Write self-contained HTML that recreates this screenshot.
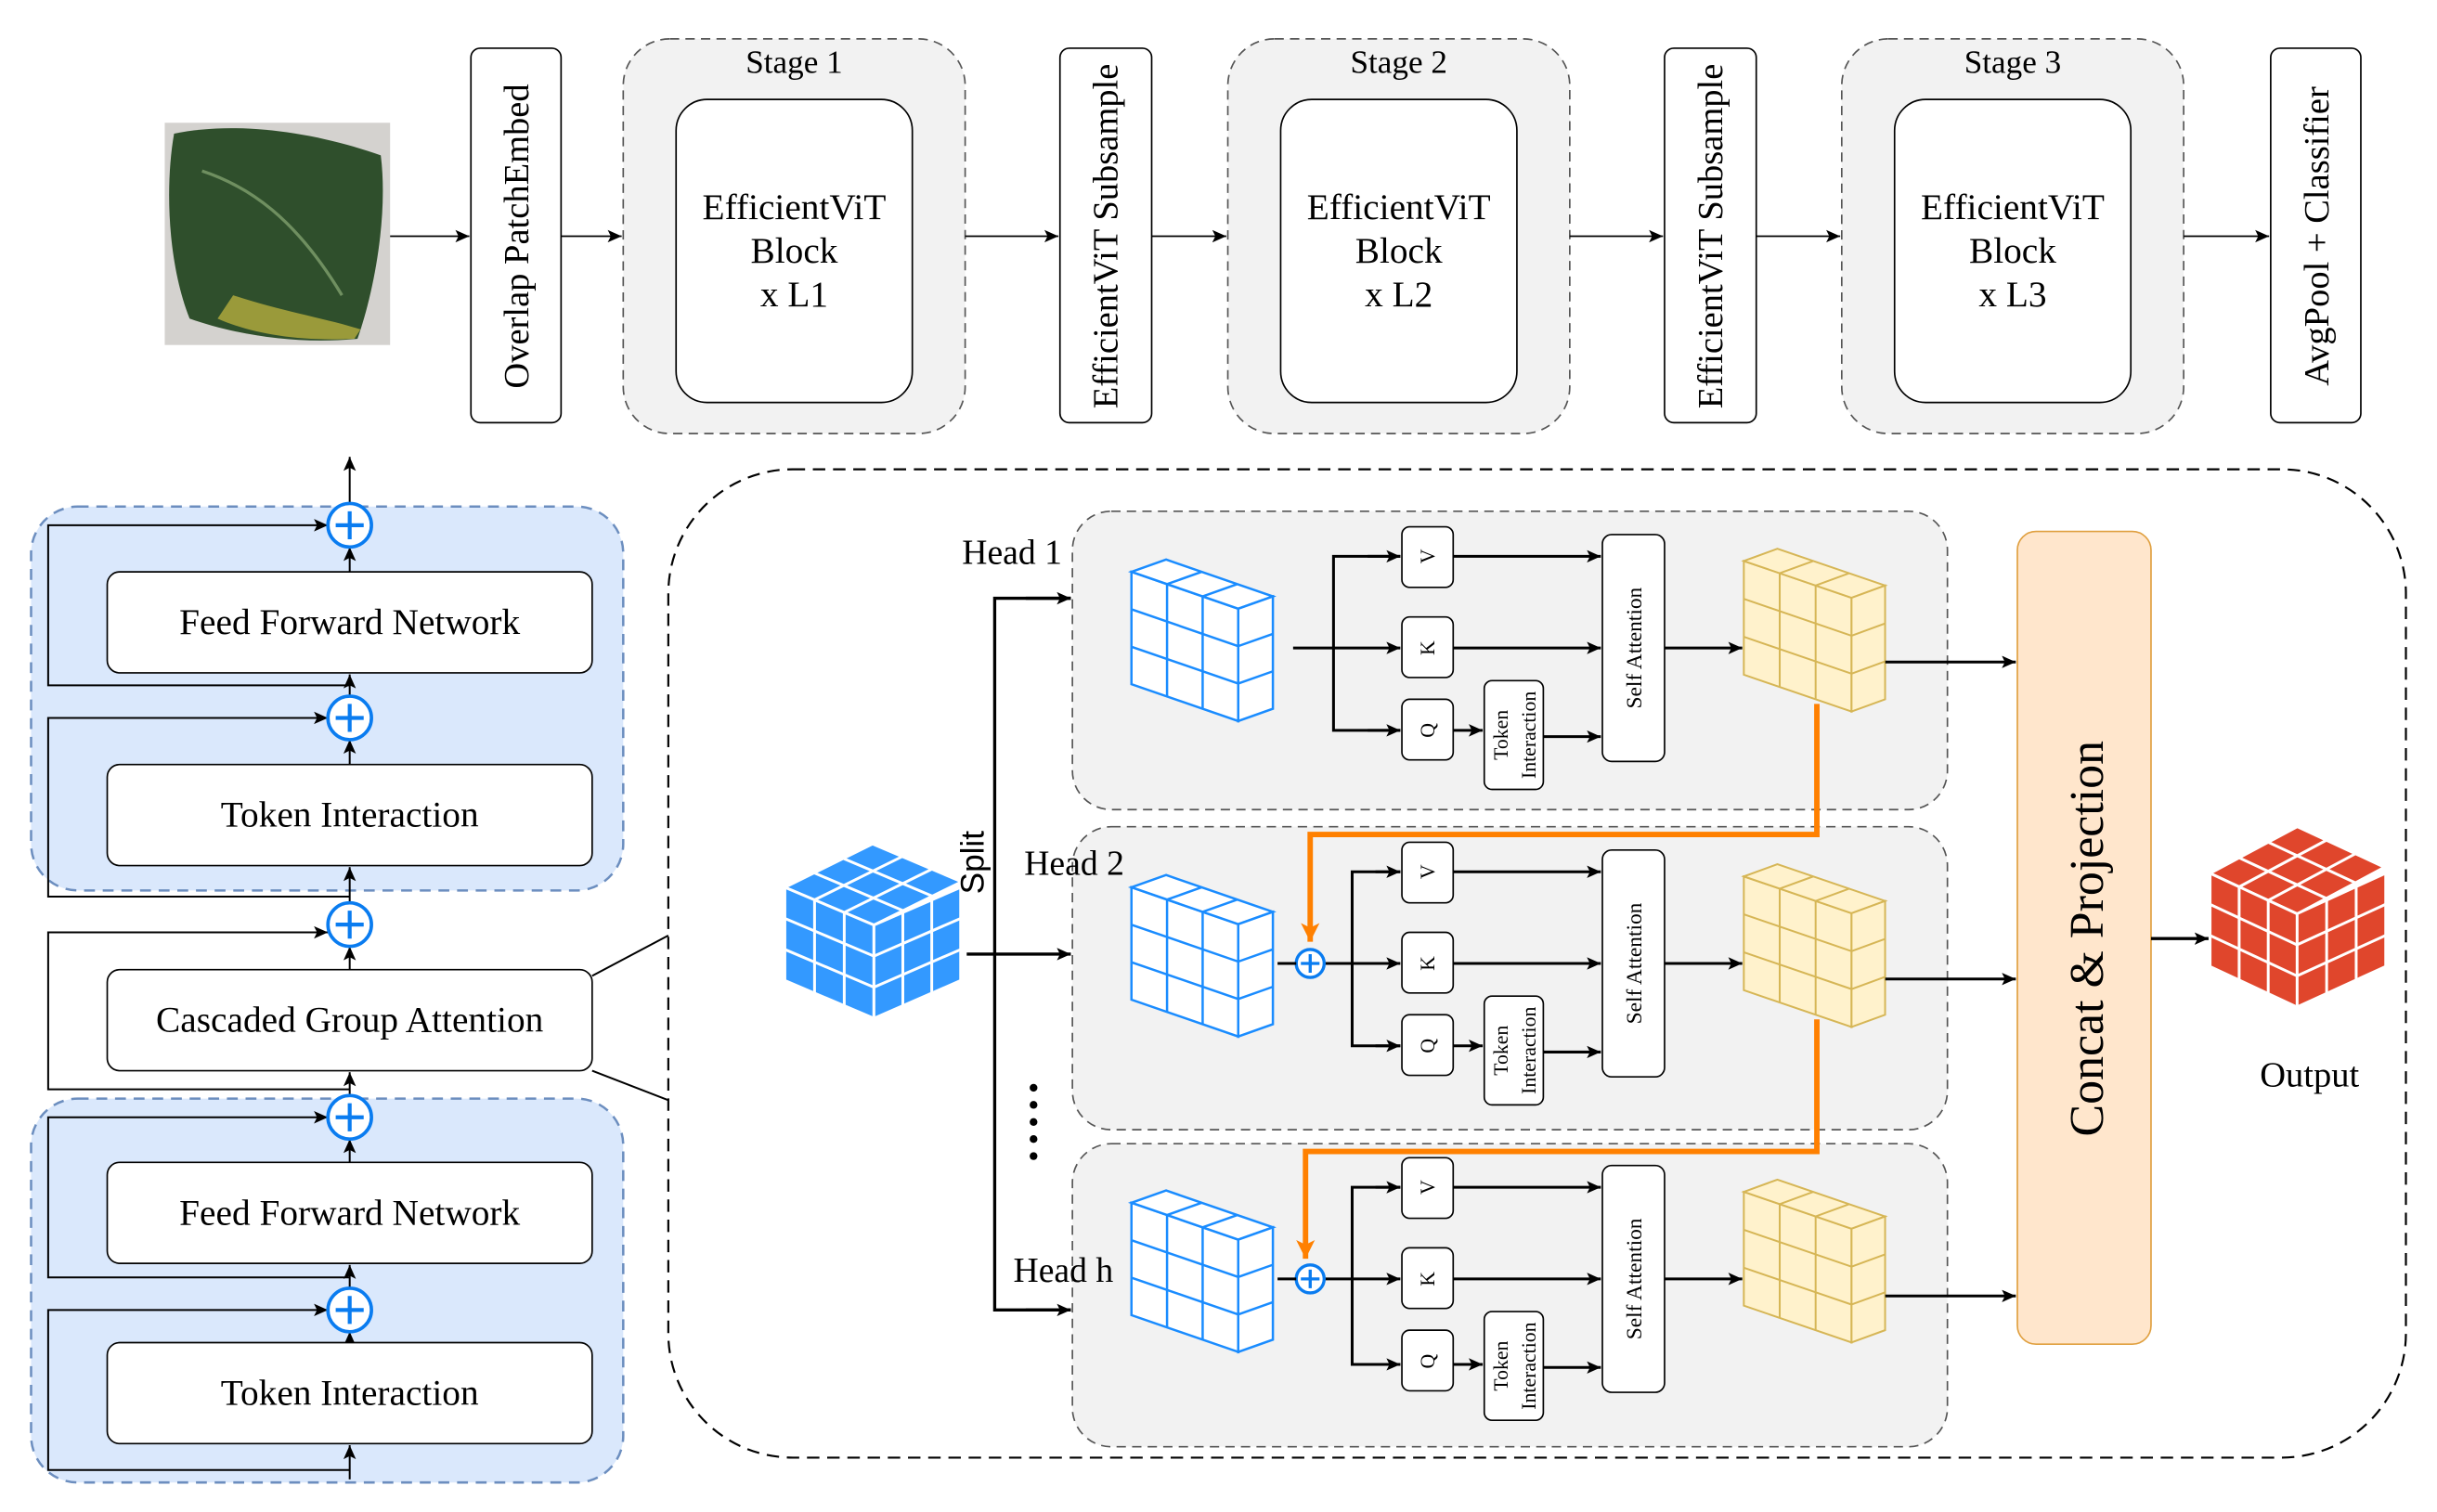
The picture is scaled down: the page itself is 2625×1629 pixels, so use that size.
<!DOCTYPE html>
<html><head><meta charset="utf-8"><style>
html,body{margin:0;padding:0;background:#fff;}
svg{display:block;}
text{font-family:"Liberation Serif",serif;fill:#000;}
</style></head><body>
<svg width="2625" height="1629" viewBox="0 0 1568 973" preserveAspectRatio="none" xmlns="http://www.w3.org/2000/svg">
<defs>
<marker id="a" markerUnits="userSpaceOnUse" markerWidth="10" markerHeight="10" refX="9" refY="5" orient="auto"><path d="M0,1 L9,5 L0,9 L2,5 z" fill="#000"/></marker>
<marker id="o" markerUnits="userSpaceOnUse" markerWidth="14" markerHeight="14" refX="12" refY="7" orient="auto"><path d="M0,1 L12,7 L0,13 L3,7 z" fill="#ff8000"/></marker>
<g id="slabB">
 <g transform="matrix(22.9 7.9 0 24.1 0 0)"><rect width="3" height="3" fill="#fff" stroke="#1a8cff" stroke-width="2.5" vector-effect="non-scaling-stroke"/><path d="M1,0V3M2,0V3M0,1H3M0,2H3" stroke="#1a8cff" stroke-width="2.5" vector-effect="non-scaling-stroke" fill="none"/></g>
 <g transform="matrix(22.9 7.9 22.3 -7.9 0 0)"><rect width="3" height="1" fill="#fff" stroke="#1a8cff" stroke-width="2.5" vector-effect="non-scaling-stroke"/><path d="M1,0V1M2,0V1" stroke="#1a8cff" stroke-width="2.5" vector-effect="non-scaling-stroke"/></g>
 <g transform="matrix(22.3 -7.9 0 24.1 68.7 23.7)"><rect width="1" height="3" fill="#fff" stroke="#1a8cff" stroke-width="2.5" vector-effect="non-scaling-stroke"/><path d="M0,1H1M0,2H1" stroke="#1a8cff" stroke-width="2.5" vector-effect="non-scaling-stroke"/></g>
</g>
<g id="slabY">
 <g transform="matrix(23.1 7.9 0 24.4 0 0)"><rect width="3" height="3" fill="#fff2cc" stroke="#d6b656" stroke-width="2" vector-effect="non-scaling-stroke"/><path d="M1,0V3M2,0V3M0,1H3M0,2H3" stroke="#d6b656" stroke-width="2" vector-effect="non-scaling-stroke" fill="none"/></g>
 <g transform="matrix(23.1 7.9 21.6 -7.9 0 0)"><rect width="3" height="1" fill="#fff2cc" stroke="#d6b656" stroke-width="2" vector-effect="non-scaling-stroke"/><path d="M1,0V1M2,0V1" stroke="#d6b656" stroke-width="2" vector-effect="non-scaling-stroke"/></g>
 <g transform="matrix(21.6 -7.9 0 24.4 69.3 23.7)"><rect width="1" height="3" fill="#fff2cc" stroke="#d6b656" stroke-width="2" vector-effect="non-scaling-stroke"/><path d="M0,1H1M0,2H1" stroke="#d6b656" stroke-width="2" vector-effect="non-scaling-stroke"/></g>
</g>
</defs>

<!-- Top row -->
<rect x="106" y="79" width="145" height="143" fill="#d4d2cf"/>
<path d="M112,86 C150,78 200,84 245,100 C250,140 240,190 230,218 C190,222 150,215 122,205 C108,170 106,120 112,86z" fill="#2f4f2c"/>
<path d="M150,190 C180,200 210,205 232,212 L228,218 C190,220 160,214 140,205z" fill="#9a9a3a"/>
<path d="M130,110 C160,120 190,140 220,190" stroke="#6f8f60" stroke-width="2" fill="none"/>
<line x1="251" y1="152" x2="302" y2="152" stroke="#000" marker-end="url(#a)"/>
<rect x="303" y="31" width="58" height="241" rx="6" fill="#fff" stroke="#000"/>
<text transform="translate(340,152) rotate(-90)" text-anchor="middle" font-size="23">Overlap PatchEmbed</text>
<line x1="361" y1="152" x2="400" y2="152" stroke="#000" marker-end="url(#a)"/>

<rect x="401" y="25" width="220" height="254" rx="30" fill="#f2f2f2" stroke="#555" stroke-dasharray="6,4"/>
<text x="511" y="47" text-anchor="middle" font-size="21">Stage 1</text>
<rect x="435" y="64" width="152" height="195" rx="20" fill="#fff" stroke="#000"/>
<text x="511" y="141" text-anchor="middle" font-size="23.5">EfficientViT</text>
<text x="511" y="169" text-anchor="middle" font-size="23.5">Block</text>
<text x="511" y="197" text-anchor="middle" font-size="23.5">x L1</text>
<line x1="621" y1="152" x2="681" y2="152" stroke="#000" marker-end="url(#a)"/>
<rect x="682" y="31" width="59" height="241" rx="6" fill="#fff" stroke="#000"/>
<text transform="translate(719,152) rotate(-90)" text-anchor="middle" font-size="23">EfficientViT Subsample</text>
<line x1="741" y1="152" x2="789" y2="152" stroke="#000" marker-end="url(#a)"/>

<rect x="790" y="25" width="220" height="254" rx="30" fill="#f2f2f2" stroke="#555" stroke-dasharray="6,4"/>
<text x="900" y="47" text-anchor="middle" font-size="21">Stage 2</text>
<rect x="824" y="64" width="152" height="195" rx="20" fill="#fff" stroke="#000"/>
<text x="900" y="141" text-anchor="middle" font-size="23.5">EfficientViT</text>
<text x="900" y="169" text-anchor="middle" font-size="23.5">Block</text>
<text x="900" y="197" text-anchor="middle" font-size="23.5">x L2</text>
<line x1="1010" y1="152" x2="1070" y2="152" stroke="#000" marker-end="url(#a)"/>
<rect x="1071" y="31" width="59" height="241" rx="6" fill="#fff" stroke="#000"/>
<text transform="translate(1108,152) rotate(-90)" text-anchor="middle" font-size="23">EfficientViT Subsample</text>
<line x1="1130" y1="152" x2="1184" y2="152" stroke="#000" marker-end="url(#a)"/>

<rect x="1185" y="25" width="220" height="254" rx="30" fill="#f2f2f2" stroke="#555" stroke-dasharray="6,4"/>
<text x="1295" y="47" text-anchor="middle" font-size="21">Stage 3</text>
<rect x="1219" y="64" width="152" height="195" rx="20" fill="#fff" stroke="#000"/>
<text x="1295" y="141" text-anchor="middle" font-size="23.5">EfficientViT</text>
<text x="1295" y="169" text-anchor="middle" font-size="23.5">Block</text>
<text x="1295" y="197" text-anchor="middle" font-size="23.5">x L3</text>
<line x1="1405" y1="152" x2="1460" y2="152" stroke="#000" marker-end="url(#a)"/>
<rect x="1461" y="31" width="58" height="241" rx="6" fill="#fff" stroke="#000"/>
<text transform="translate(1498,152) rotate(-90)" text-anchor="middle" font-size="23">AvgPool + Classifier</text>

<!-- Left panel -->
<rect x="20" y="326" width="381" height="247" rx="30" fill="#dae8fc" stroke="#6c8ebf" stroke-width="1.5" stroke-dasharray="7,5"/>
<rect x="20" y="707" width="381" height="247" rx="30" fill="#dae8fc" stroke="#6c8ebf" stroke-width="1.5" stroke-dasharray="7,5"/>
<g stroke="#000" fill="none" stroke-width="1.2">
<line x1="225" y1="952" x2="225" y2="930" marker-end="url(#a)"/>
<line x1="225" y1="864" x2="225" y2="857" marker-end="url(#a)"/>
<line x1="225" y1="829" x2="225" y2="814" marker-end="url(#a)"/>
<line x1="225" y1="748" x2="225" y2="733" marker-end="url(#a)"/>
<line x1="225" y1="705" x2="225" y2="690" marker-end="url(#a)"/>
<line x1="225" y1="624" x2="225" y2="609" marker-end="url(#a)"/>
<line x1="225" y1="581" x2="225" y2="558" marker-end="url(#a)"/>
<line x1="225" y1="492" x2="225" y2="476" marker-end="url(#a)"/>
<line x1="225" y1="448" x2="225" y2="434" marker-end="url(#a)"/>
<line x1="225" y1="368" x2="225" y2="352" marker-end="url(#a)"/>
<line x1="225" y1="324" x2="225" y2="294" marker-end="url(#a)"/>
<path d="M225,441 H31 V338 H211" marker-end="url(#a)"/>
<path d="M225,577 H31 V462 H211" marker-end="url(#a)"/>
<path d="M225,701 H31 V600 H211" marker-end="url(#a)"/>
<path d="M225,822 H31 V719 H211" marker-end="url(#a)"/>
<path d="M225,946 H31 V843 H211" marker-end="url(#a)"/>
<line x1="381" y1="628" x2="430" y2="602"/>
<line x1="381" y1="689" x2="430" y2="708"/>
</g>
<g fill="#fff" stroke="#000">
<rect x="69" y="368" width="312" height="65" rx="8"/>
<rect x="69" y="492" width="312" height="65" rx="8"/>
<rect x="69" y="624" width="312" height="65" rx="8"/>
<rect x="69" y="748" width="312" height="65" rx="8"/>
<rect x="69" y="864" width="312" height="65" rx="8"/>
</g>
<g font-size="23.5" text-anchor="middle">
<text x="225" y="408">Feed Forward Network</text>
<text x="225" y="532">Token Interaction</text>
<text x="225" y="664">Cascaded Group Attention</text>
<text x="225" y="788">Feed Forward Network</text>
<text x="225" y="904">Token Interaction</text>
</g>
<g stroke="#0a7cf0" stroke-width="2.2" fill="#fff">
<circle cx="225" cy="338" r="14"/><circle cx="225" cy="462" r="14"/><circle cx="225" cy="595" r="14"/><circle cx="225" cy="719" r="14"/><circle cx="225" cy="843" r="14"/>
</g>
<g stroke="#0a7cf0" stroke-width="2.5">
<path d="M216,338H234M225,329V347"/><path d="M216,462H234M225,453V471"/><path d="M216,595H234M225,586V604"/><path d="M216,719H234M225,710V728"/><path d="M216,843H234M225,834V852"/>
</g>

<!-- Big dashed box -->
<rect x="430" y="302" width="1118" height="636" rx="80" fill="none" stroke="#000" stroke-width="1.3" stroke-dasharray="8,5"/>

<!-- Head boxes -->
<g fill="#f2f2f2" stroke="#555" stroke-dasharray="6,4">
<rect x="690" y="329" width="563" height="192" rx="25"/>
<rect x="690" y="532" width="563" height="195" rx="25"/>
<rect x="690" y="736" width="563" height="195" rx="25"/>
</g>

<!-- split cube -->
<g stroke="#fff" stroke-width="3" fill="#3399ff">
 <g transform="matrix(18.8 -9.3 19.1 8.1 505 571)"><rect width="3" height="3" vector-effect="non-scaling-stroke"/><path d="M1,0V3M2,0V3M0,1H3M0,2H3" vector-effect="non-scaling-stroke"/></g>
 <g transform="matrix(19.1 8.1 0 20 505 571)"><rect width="3" height="3" vector-effect="non-scaling-stroke"/><path d="M1,0V3M2,0V3M0,1H3M0,2H3" vector-effect="non-scaling-stroke"/></g>
 <g transform="matrix(18.6 -8.1 0 20 562.3 595.3)"><rect width="3" height="3" vector-effect="non-scaling-stroke"/><path d="M1,0V3M2,0V3M0,1H3M0,2H3" vector-effect="non-scaling-stroke"/></g>
</g>
<text transform="translate(633,555) rotate(-90)" text-anchor="middle" font-size="21" style="font-family:'Liberation Sans',sans-serif">Split</text>
<g stroke="#000" stroke-width="2" fill="none">
<line x1="622" y1="614" x2="689" y2="614" marker-end="url(#a)"/>
<path d="M689,385 H640 V843 H689" />
<line x1="660" y1="385" x2="689" y2="385" marker-end="url(#a)"/>
<line x1="660" y1="843" x2="689" y2="843" marker-end="url(#a)"/>
</g>
<text x="619" y="363" font-size="22.5">Head 1</text>
<text x="659" y="563" font-size="22.5">Head 2</text>
<text x="652" y="825" font-size="22.5">Head h</text>
<g fill="#000"><circle cx="665" cy="700" r="2.5"/><circle cx="665" cy="711" r="2.5"/><circle cx="665" cy="722" r="2.5"/><circle cx="665" cy="733" r="2.5"/><circle cx="665" cy="744" r="2.5"/></g>

<!-- Head 1 -->
<use href="#slabB" x="728" y="368"/>
<use href="#slabY" x="1122" y="361"/>
<g stroke="#000" stroke-width="1.8" fill="none">
<line x1="832" y1="417" x2="901" y2="417" marker-end="url(#a)"/>
<path d="M901,358 H858 V470 H901" />
<line x1="880" y1="358" x2="901" y2="358" marker-end="url(#a)"/>
<line x1="880" y1="470" x2="901" y2="470" marker-end="url(#a)"/>
<line x1="935" y1="358" x2="1030" y2="358" marker-end="url(#a)"/>
<line x1="935" y1="417" x2="1030" y2="417" marker-end="url(#a)"/>
<line x1="935" y1="470" x2="954" y2="470" marker-end="url(#a)"/>
<line x1="993" y1="474" x2="1030" y2="474" marker-end="url(#a)"/>
<line x1="1071" y1="417" x2="1121" y2="417" marker-end="url(#a)"/>
<line x1="1213" y1="426" x2="1297" y2="426" marker-end="url(#a)"/>
</g>

<!-- Head 2 -->
<use href="#slabB" x="728" y="571"/>
<use href="#slabY" x="1122" y="564"/>
<g stroke="#000" stroke-width="1.8" fill="none">
<line x1="852" y1="620" x2="901" y2="620" marker-end="url(#a)"/>
<path d="M901,561 H870 V673 H901"/>
<line x1="885" y1="561" x2="901" y2="561" marker-end="url(#a)"/>
<line x1="885" y1="673" x2="901" y2="673" marker-end="url(#a)"/>
<line x1="935" y1="561" x2="1030" y2="561" marker-end="url(#a)"/>
<line x1="935" y1="620" x2="1030" y2="620" marker-end="url(#a)"/>
<line x1="935" y1="673" x2="954" y2="673" marker-end="url(#a)"/>
<line x1="993" y1="677" x2="1030" y2="677" marker-end="url(#a)"/>
<line x1="1071" y1="620" x2="1121" y2="620" marker-end="url(#a)"/>
<line x1="1213" y1="630" x2="1297" y2="630" marker-end="url(#a)"/>
</g>

<!-- Head h -->
<use href="#slabB" x="728" y="774"/>
<use href="#slabY" x="1122" y="767"/>
<g stroke="#000" stroke-width="1.8" fill="none">
<line x1="852" y1="823" x2="901" y2="823" marker-end="url(#a)"/>
<path d="M901,764 H870 V878 H901"/>
<line x1="885" y1="764" x2="901" y2="764" marker-end="url(#a)"/>
<line x1="885" y1="878" x2="901" y2="878" marker-end="url(#a)"/>
<line x1="935" y1="764" x2="1030" y2="764" marker-end="url(#a)"/>
<line x1="935" y1="823" x2="1030" y2="823" marker-end="url(#a)"/>
<line x1="935" y1="878" x2="954" y2="878" marker-end="url(#a)"/>
<line x1="993" y1="880" x2="1030" y2="880" marker-end="url(#a)"/>
<line x1="1071" y1="823" x2="1121" y2="823" marker-end="url(#a)"/>
<line x1="1213" y1="834" x2="1297" y2="834" marker-end="url(#a)"/>
</g>

<!-- plus circles in heads -->
<g stroke="#0a7cf0" stroke-width="2" fill="#fff"><circle cx="843" cy="620" r="9"/><circle cx="843" cy="823" r="9"/></g>
<g stroke="#0a7cf0" stroke-width="2"><path d="M837,620H849M843,614V626"/><path d="M837,823H849M843,817V829"/></g>
<g stroke="#000" stroke-width="1.8"><line x1="822" y1="620" x2="834" y2="620"/><line x1="822" y1="823" x2="834" y2="823"/></g>

<!-- V K Q boxes, TI, SA -->
<g fill="#fff" stroke="#000">
<rect x="902" y="339" width="33" height="39" rx="5"/><rect x="902" y="397" width="33" height="39" rx="5"/><rect x="902" y="450" width="33" height="39" rx="5"/>
<rect x="955" y="438" width="38" height="70" rx="5"/><rect x="1031" y="344" width="40" height="146" rx="6"/>
<rect x="902" y="542" width="33" height="39" rx="5"/><rect x="902" y="600" width="33" height="39" rx="5"/><rect x="902" y="653" width="33" height="39" rx="5"/>
<rect x="955" y="641" width="38" height="70" rx="5"/><rect x="1031" y="547" width="40" height="146" rx="6"/>
<rect x="902" y="745" width="33" height="39" rx="5"/><rect x="902" y="803" width="33" height="39" rx="5"/><rect x="902" y="856" width="33" height="39" rx="5"/>
<rect x="955" y="844" width="38" height="70" rx="5"/><rect x="1031" y="750" width="40" height="146" rx="6"/>
</g>
<g font-size="13" text-anchor="middle">
<text transform="translate(923,358) rotate(-90)">V</text><text transform="translate(923,417) rotate(-90)">K</text><text transform="translate(923,470) rotate(-90)">Q</text>
<text transform="translate(970,473) rotate(-90)">Token</text><text transform="translate(988,473) rotate(-90)">Interaction</text>
<text transform="translate(1056,417) rotate(-90)" font-size="14">Self Attention</text>
<text transform="translate(923,561) rotate(-90)">V</text><text transform="translate(923,620) rotate(-90)">K</text><text transform="translate(923,673) rotate(-90)">Q</text>
<text transform="translate(970,676) rotate(-90)">Token</text><text transform="translate(988,676) rotate(-90)">Interaction</text>
<text transform="translate(1056,620) rotate(-90)" font-size="14">Self Attention</text>
<text transform="translate(923,764) rotate(-90)">V</text><text transform="translate(923,823) rotate(-90)">K</text><text transform="translate(923,876) rotate(-90)">Q</text>
<text transform="translate(970,879) rotate(-90)">Token</text><text transform="translate(988,879) rotate(-90)">Interaction</text>
<text transform="translate(1056,823) rotate(-90)" font-size="14">Self Attention</text>
</g>

<!-- orange -->
<g stroke="#ff8000" stroke-width="3.5" fill="none">
<path d="M1169,453 V537 H843 V606" marker-end="url(#o)"/>
<path d="M1169,656 V741 H840 V810" marker-end="url(#o)"/>
</g>

<!-- concat -->
<rect x="1298" y="342" width="86" height="523" rx="12" fill="#ffe6cc" stroke="#e0a040"/>
<text transform="translate(1353,604) rotate(-90)" text-anchor="middle" font-size="31">Concat &amp; Projection</text>
<line x1="1384" y1="604" x2="1421" y2="604" stroke="#000" stroke-width="2" marker-end="url(#a)"/>

<!-- red cube -->
<g stroke="#fff" stroke-width="3" fill="#e0462c">
 <g transform="matrix(18.7 -10 18.7 8.7 1422 562)"><rect width="3" height="3" vector-effect="non-scaling-stroke"/><path d="M1,0V3M2,0V3M0,1H3M0,2H3" vector-effect="non-scaling-stroke"/></g>
 <g transform="matrix(18.7 8.7 0 20 1422 562)"><rect width="3" height="3" vector-effect="non-scaling-stroke"/><path d="M1,0V3M2,0V3M0,1H3M0,2H3" vector-effect="non-scaling-stroke"/></g>
 <g transform="matrix(19 -8.7 0 20 1478 588)"><rect width="3" height="3" vector-effect="non-scaling-stroke"/><path d="M1,0V3M2,0V3M0,1H3M0,2H3" vector-effect="non-scaling-stroke"/></g>
</g>
<text x="1486" y="699" text-anchor="middle" font-size="23">Output</text>
</svg>
</body></html>
